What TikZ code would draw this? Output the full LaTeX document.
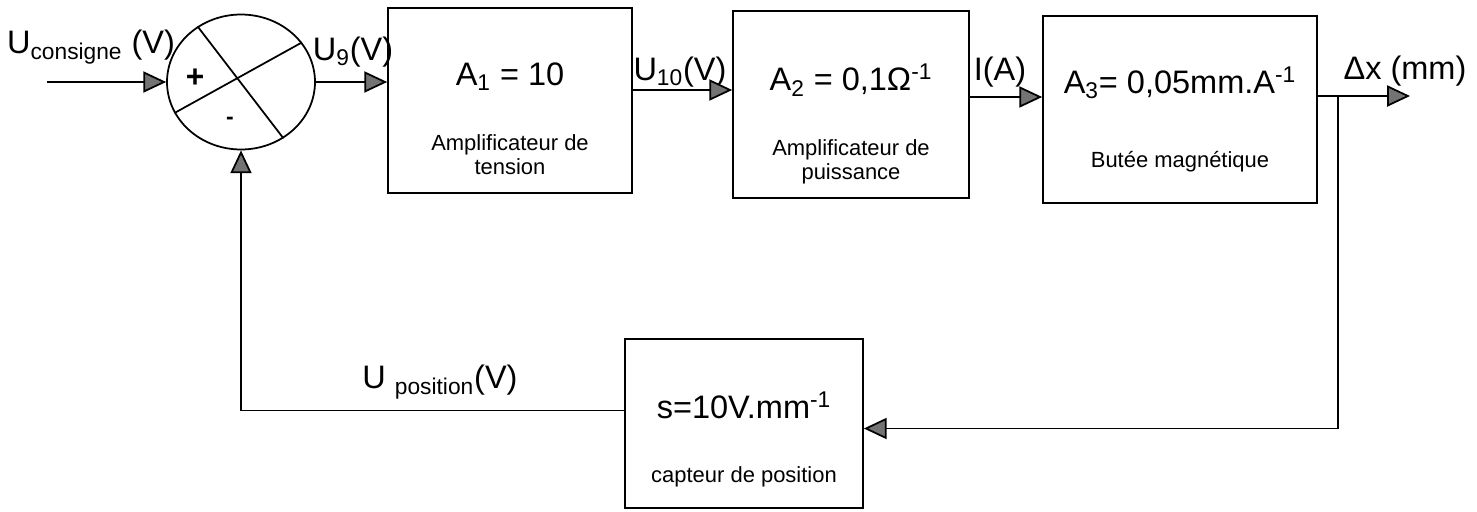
\documentclass[tikz,border=0pt]{standalone}
\usepackage{fontspec}
\setmainfont{Liberation Sans}
\usepackage{tikz}
\usetikzlibrary{arrows.meta,shapes.geometric}

\begin{document}
\begin{tikzpicture}[x=0.02cm, y=-0.02cm, line width=1pt,
        bloc/.style={draw, rectangle, inner sep=0pt},
        fleche/.style={-{Triangle[length=13pt, width=12pt, fill=black!55]}},
        grand/.style={font=\fontsize{18.5}{22}\selectfont},
        petit/.style={font=\fontsize{12.5}{13.6}\selectfont, align=center}]
            \useasboundingbox (0,0) rectangle (1477,511);

            \node[draw, ellipse, minimum width=2.96cm, minimum height=2.7cm, inner sep=0pt] (sum) at (241,82) {};
            \draw (sum.128) -- (sum.-53);
            \draw (sum.205) -- (sum.33);
            \node[font=\fontsize{18}{20}\selectfont\bfseries] (plus) at (195,78) {+};
            \node[font=\fontsize{13}{14}\selectfont\bfseries] (moins) at (230,121) {-};

            \node[bloc, minimum width=4.88cm, minimum height=3.7cm] (b1) at (510,100.5) {};
            \node[bloc, minimum width=4.72cm, minimum height=3.74cm] (b2) at (851,104.5) {};
            \node[bloc, minimum width=5.48cm, minimum height=3.74cm] (b3) at (1180,109.5) {};
            \node[bloc, minimum width=4.76cm, minimum height=3.38cm] (b4) at (744,423.5) {};

            \node[grand] (t1) at (510,77) {A\textsubscript{1} = 10};
            \node[petit] (s1) at (510,155) {Amplificateur de\\tension};
            \node[grand] (t2) at (851,80) {A\textsubscript{2} = 0,1Ω\textsuperscript{-1}};
            \node[petit] (s2) at (851,161.5) {Amplificateur de\\puissance};
            \node[grand] (t3) at (1180,83) {A\textsubscript{3}= 0,05mm.A\textsuperscript{-1}};
            \node[petit] (s3) at (1180,162) {Butée magnétique};
            \node[grand] (t4) at (744,405) {s=10V.mm\textsuperscript{-1}};
            \node[petit] (s4) at (744,477) {capteur de position};

            \node[grand, anchor=base] (uc) at (91,53) {U\textsubscript{consigne} (V)};
            \node[grand, anchor=base] (u9) at (353,60) {U\textsubscript{9}(V)};
            \node[grand, anchor=base] (u10) at (680,80) {U\textsubscript{10}(V)};
            \node[grand, anchor=base] (ia) at (1000,80) {I(A)};
            \node[grand, anchor=base] (dx) at (1405,79) {Δx (mm)};
            \node[grand, anchor=base] (up) at (440,388) {U \textsubscript{position}(V)};

            \coordinate (entree) at (47,82);
            \coordinate (sortie) at (1410,96);
            \coordinate (noeud) at (1338,96);

            \draw[fleche] (entree) -- (sum.west);
            \draw[fleche] (sum.east) -- (sum.east -| b1.west);
            \draw[fleche] ([yshift=0.21cm]b1.east) -- ([yshift=0.21cm]b1.east -| b2.west);
            \draw[fleche] ([yshift=0.15cm]b2.east) -- ([yshift=0.15cm]b2.east -| b3.west);
            \draw[fleche] ([yshift=0.27cm]b3.east) -- (sortie);
            \draw[fleche] (noeud) |- ([yshift=-0.1cm]b4.east);
            \draw[fleche] ([yshift=0.26cm]b4.west) -| (sum.south);
        \end{tikzpicture}
\end{document}
